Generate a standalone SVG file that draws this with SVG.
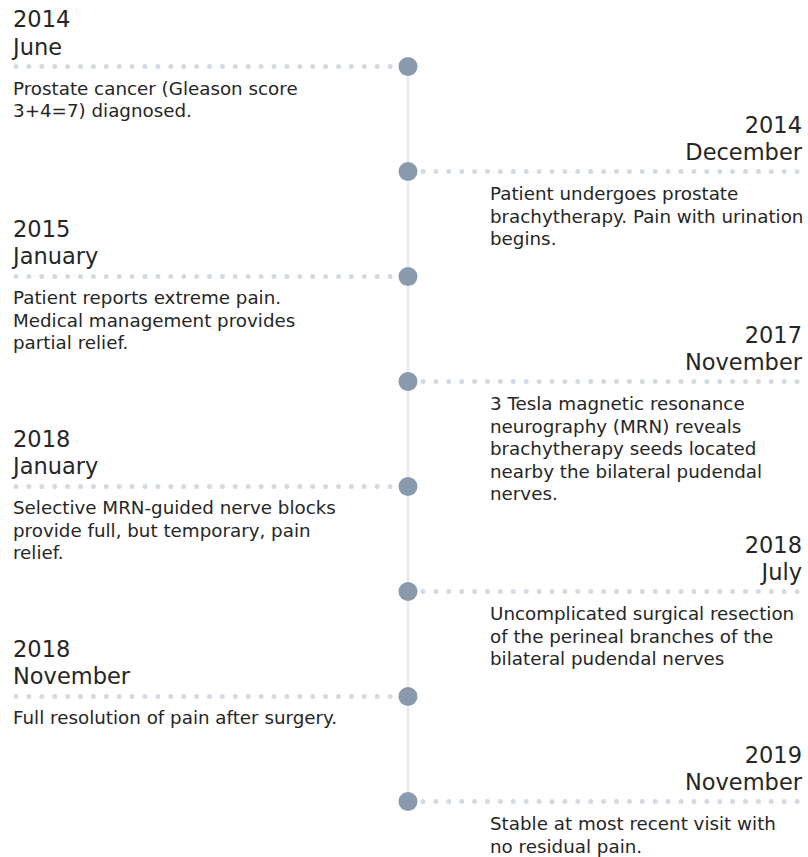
<svg xmlns="http://www.w3.org/2000/svg" width="808" height="857" viewBox="0 0 808 857">
<style>
.hd{font-family:"DejaVu Sans",sans-serif;font-size:22.5px;fill:#262626}
.bd{font-family:"DejaVu Sans",sans-serif;font-size:18.3px;fill:#262626}
.r{text-anchor:end}
.dots{stroke:#d4dae1;stroke-width:5;stroke-linecap:round;stroke-dasharray:0 12.9;fill:none}
.node{fill:#8a9aad}
</style>
<rect width="808" height="857" fill="#ffffff"/>
<g id="connectors">
<line x1="408" y1="66.5" x2="408" y2="801.5" stroke="#ececec" stroke-width="3"/>
<line class="dots" x1="16" y1="66.5" x2="392" y2="66.5"/>
<line class="dots" x1="423" y1="171.5" x2="806" y2="171.5"/>
<line class="dots" x1="16" y1="276.5" x2="392" y2="276.5"/>
<line class="dots" x1="423" y1="381.5" x2="806" y2="381.5"/>
<line class="dots" x1="16" y1="486.5" x2="392" y2="486.5"/>
<line class="dots" x1="423" y1="591.5" x2="806" y2="591.5"/>
<line class="dots" x1="16" y1="696.5" x2="392" y2="696.5"/>
<line class="dots" x1="423" y1="801.5" x2="806" y2="801.5"/>
</g>
<g id="e1">
<circle class="node" cx="408" cy="66.5" r="9.5"/>
<text class="hd" x="13" y="27">2014</text>
<text class="hd" x="13" y="55">June</text>
<text class="bd" x="13" y="94.5">Prostate cancer (Gleason score</text>
<text class="bd" x="13" y="117">3+4=7) diagnosed.</text>
</g>
<g id="e2">
<circle class="node" cx="408" cy="171.5" r="9.5"/>
<text class="hd r" x="802" y="133">2014</text>
<text class="hd r" x="802" y="160">December</text>
<text class="bd" x="490" y="200">Patient undergoes prostate</text>
<text class="bd" x="490" y="222.5">brachytherapy. Pain with urination</text>
<text class="bd" x="490" y="245">begins.</text>
</g>
<g id="e3">
<circle class="node" cx="408" cy="276.5" r="9.5"/>
<text class="hd" x="13" y="237">2015</text>
<text class="hd" x="13" y="264">January</text>
<text class="bd" x="13" y="304">Patient reports extreme pain.</text>
<text class="bd" x="13" y="326.5">Medical management provides</text>
<text class="bd" x="13" y="349">partial relief.</text>
</g>
<g id="e4">
<circle class="node" cx="408" cy="381.5" r="9.5"/>
<text class="hd r" x="802" y="343">2017</text>
<text class="hd r" x="802" y="370">November</text>
<text class="bd" x="490" y="410">3 Tesla magnetic resonance</text>
<text class="bd" x="490" y="432.5">neurography (MRN) reveals</text>
<text class="bd" x="490" y="455">brachytherapy seeds located</text>
<text class="bd" x="490" y="477.5">nearby the bilateral pudendal</text>
<text class="bd" x="490" y="500">nerves.</text>
</g>
<g id="e5">
<circle class="node" cx="408" cy="486.5" r="9.5"/>
<text class="hd" x="13" y="447">2018</text>
<text class="hd" x="13" y="474">January</text>
<text class="bd" x="13" y="514">Selective MRN-guided nerve blocks</text>
<text class="bd" x="13" y="536.5">provide full, but temporary, pain</text>
<text class="bd" x="13" y="559">relief.</text>
</g>
<g id="e6">
<circle class="node" cx="408" cy="591.5" r="9.5"/>
<text class="hd r" x="802" y="553">2018</text>
<text class="hd r" x="802" y="580">July</text>
<text class="bd" x="490" y="620">Uncomplicated surgical resection</text>
<text class="bd" x="490" y="642.5">of the perineal branches of the</text>
<text class="bd" x="490" y="665">bilateral pudendal nerves</text>
</g>
<g id="e7">
<circle class="node" cx="408" cy="696.5" r="9.5"/>
<text class="hd" x="13" y="657">2018</text>
<text class="hd" x="13" y="684">November</text>
<text class="bd" x="13" y="724">Full resolution of pain after surgery.</text>
</g>
<g id="e8">
<circle class="node" cx="408" cy="801.5" r="9.5"/>
<text class="hd r" x="802" y="763">2019</text>
<text class="hd r" x="802" y="790">November</text>
<text class="bd" x="490" y="830">Stable at most recent visit with</text>
<text class="bd" x="490" y="852.5">no residual pain.</text>
</g>
</svg>
